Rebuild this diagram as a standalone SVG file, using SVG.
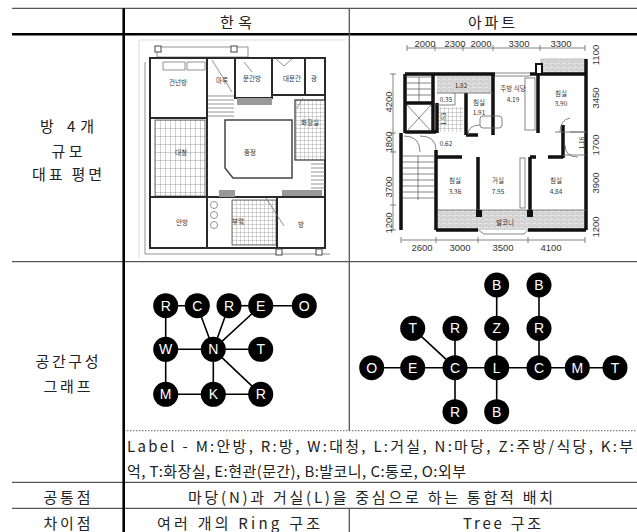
<svg xmlns="http://www.w3.org/2000/svg" width="637" height="532" viewBox="0 0 637 532">
<style>
.t{font-family:"Noto Sans CJK KR","Liberation Sans",sans-serif;font-size:15px;fill:#222;dominant-baseline:central}
.c{text-anchor:middle}
.thin{stroke:#555;stroke-width:1.3;fill:none}
.thick{stroke:#000;stroke-width:2.6;fill:none}
.edge{stroke:#000;stroke-width:1.6}
.node circle{fill:#000}
.node text{fill:#fff;font-family:"Liberation Sans",Arial,sans-serif;font-size:14px;text-anchor:middle;dominant-baseline:central}
.pl{font-family:"Noto Sans CJK KR",sans-serif;font-size:6.5px;fill:#333;text-anchor:middle;dominant-baseline:central}
.dim{font-family:"Liberation Sans",Arial,sans-serif;font-size:9.5px;fill:#333;text-anchor:middle;dominant-baseline:central}
.hw{stroke:#2a2a2a;stroke-width:2;fill:none}
.hl{stroke:#777;stroke-width:0.8;fill:none}
.aw{stroke:#111;stroke-width:3.5;fill:none}
.al{stroke:#666;stroke-width:0.8;fill:none}
</style>
<defs>
<pattern id="grid" width="4" height="4" patternUnits="userSpaceOnUse"><rect width="4" height="4" fill="#fff"/><path d="M0 0H4M0 0V4" stroke="#888" stroke-width="0.7"/></pattern>
<pattern id="boards" width="5" height="8" patternUnits="userSpaceOnUse"><rect width="5" height="8" fill="#fff"/><path d="M0 0V8M0 0H5" stroke="#777" stroke-width="0.7"/></pattern>
<pattern id="brick" width="6" height="4" patternUnits="userSpaceOnUse"><rect width="6" height="4" fill="#e4e4e4"/><path d="M0 0H6M0 0V2M3 2V4M0 2H6" stroke="#aaa" stroke-width="0.5"/></pattern>
</defs>

<g id="table">
<line class="thin" x1="12" y1="8.3" x2="637" y2="8.3"/>
<line class="thick" x1="12" y1="34.3" x2="637" y2="34.3"/>
<line class="thin" x1="12" y1="261.7" x2="637" y2="261.7"/>
<line x1="124" y1="430.7" x2="637" y2="430.7" stroke="#666" stroke-width="1" stroke-dasharray="1.5,1.5"/>
<line class="thin" x1="12" y1="482.3" x2="637" y2="482.3"/>
<line class="thin" x1="12" y1="508.3" x2="637" y2="508.3"/>
<line class="thick" x1="123.7" y1="8.3" x2="123.7" y2="532"/>
<line class="thin" x1="349.3" y1="8.3" x2="349.3" y2="430.7"/>
<line class="thin" x1="349.3" y1="508.3" x2="349.3" y2="532"/>
</g>

<g id="texts">
<text class="t c" x="236" y="21.5" textLength="32">한옥</text>
<text class="t c" x="491.5" y="21.5" textLength="47">아파트</text>
<text class="t c" x="67" y="125" textLength="54">방 4개</text>
<text class="t c" x="67" y="150" textLength="31">규모</text>
<text class="t c" x="67" y="173" textLength="70">대표 평면</text>
<text class="t c" x="67" y="360" textLength="63">공간구성</text>
<text class="t c" x="67" y="385" textLength="47">그래프</text>
<text class="t" x="127" y="445" textLength="506">Label - M:안방, R:방, W:대청, L:거실, N:마당, Z:주방/식당, K:부</text>
<text class="t" x="127" y="470" textLength="339">억, T:화장실, E:현관(문간), B:발코니, C:통로, O:외부</text>
<text class="t c" x="67" y="496" textLength="47">공통점</text>
<text class="t c" x="370.5" y="496" textLength="365">마당(N)과 거실(L)을 중심으로 하는 통합적 배치</text>
<text class="t c" x="67" y="522" textLength="47">차이점</text>
<text class="t c" x="238.5" y="522" textLength="163">여러 개의 Ring 구조</text>
<text class="t c" x="502" y="522" textLength="78">Tree 구조</text>
</g>

<g id="hanok-plan">
<path d="M139 258V40H345" stroke="#ddd" stroke-width="1" fill="none"/>
<rect x="157" y="47" width="91" height="10" class="hl"/>
<rect x="155" y="46" width="6" height="6" fill="#fff" stroke="#444" stroke-width="1"/>
<rect x="231" y="46" width="6" height="6" fill="#fff" stroke="#444" stroke-width="1"/>
<path d="M145 62V254H330" class="hl"/>
<rect x="150" y="58" width="175" height="190" class="hw"/>
<rect x="155" y="120" width="50" height="76" fill="url(#boards)" stroke="#555" stroke-width="0.8"/>
<rect x="232" y="200" width="44" height="45" fill="url(#grid)" stroke="#555" stroke-width="0.8"/>
<rect x="295" y="100" width="30" height="60" fill="url(#grid)" stroke="#333" stroke-width="1.2"/>
<path d="M207 58V248M150 118H207M235 58V98H272V58M305 58V95M272 95H325M150 197H325M277 197V248" class="hw"/>
<path d="M163 62H185V70H163ZM187 62H205V70H187Z" class="hl"/>
<rect x="237" y="98" width="35" height="7" fill="#999"/>
<rect x="219" y="190" width="16" height="7" fill="#999"/>
<rect x="282" y="190" width="40" height="6" fill="#999"/>
<path d="M225 120H292V178H233L225 168Z" stroke="#444" stroke-width="1.5" fill="none"/>
<path d="M208 96H234M208 100H234M208 104H234M208 108H234M208 112H234M208 116H234M212 60L232 92M311 164H325M311 168H325M311 172H325M311 176H325M311 180H325M311 184H325M311 188H325M266 198L284 226M276 59L284 66L292 59M303 98L297 108M244 62L252 72" class="hl"/>
<circle cx="214" cy="205" r="3.5" class="hl"/>
<circle cx="214" cy="215" r="3.5" class="hl"/>
<circle cx="214" cy="225" r="3.5" class="hl"/>
<rect x="276" y="249" width="6" height="6" fill="#fff" stroke="#444" stroke-width="1"/>
<rect x="316" y="249" width="6" height="6" fill="#fff" stroke="#444" stroke-width="1"/>
<text class="pl" x="178" y="82">건넌방</text>
<text class="pl" x="222" y="80">마루</text>
<text class="pl" x="252" y="78">문간방</text>
<text class="pl" x="292" y="78">대문간</text>
<text class="pl" x="314" y="78">광</text>
<text class="pl" x="310" y="122">화장실</text>
<text class="pl" x="250" y="152">중정</text>
<text class="pl" x="181" y="152">대청</text>
<text class="pl" x="182" y="222">안방</text>
<text class="pl" x="238" y="221">부엌</text>
<text class="pl" x="301" y="224">방</text>
</g>

<g id="apt-plan">
<rect x="541" y="59" width="45" height="15" fill="url(#brick)" stroke="#999" stroke-width="0.6"/>
<rect x="437" y="76" width="56" height="17" fill="url(#brick)"/>
<rect x="438" y="210" width="148" height="20" fill="url(#brick)"/>
<rect x="437" y="107" width="26" height="25" fill="url(#grid)"/>
<path d="M405 74H495M530 74H586M586 59V230M405 74V133M401 133V230M436 150V230M437 103V133M405 103H433M433 74V132M466 93V135M493 74V135M466 135H478M538 74V133M563 125V158M436 157H462M478 157V215M530 157V215M530 157H536M548 157H563M436 230H478M528 230H586M405 132H436" class="aw"/>
<rect x="536" y="64" width="6" height="10" fill="#fff" stroke="#111" stroke-width="2"/>
<path d="M495 73H530M495 76H530M478 230L484 234H524L528 230M438 210H586M437 93H493M437 105H455V93M563 132H586M563 155H586M555 132H563M570 132H586" class="al"/>
<rect x="525" y="78" width="10" height="52" class="al"/>
<rect x="480" y="116" width="22" height="12" rx="3" class="al"/>
<rect x="520" y="158" width="5" height="50" class="al"/>
<path d="M407 77H431M407 83H431M407 89H431M407 95H431M419 77V101M407 105L431 131M431 105L407 131M403 156H434M403 162H434M403 168H434M403 174H434M403 180H434M403 186H434M403 192H434M403 198H434M418 156V200M404 136Q420 136 420 152M420 136Q436 136 436 150M578 157Q565 157 565 145M468 135Q468 125 480 125M560 132Q560 120 570 118" class="al"/>
<path d="M476 210H482V217H476ZM527 210H533V217H527Z" fill="#111"/>
<path d="M407 48H585M407 45V51M435 45V51M463 45V51M493 45V51M540 45V51M585 45V51M393 74V230M390 74H396M390 133H396M390 152H396M390 205H396M390 230H396M401 240H585M401 237V243M436 237V243M478 237V243M528 237V243M585 237V243" class="al"/>
<text class="dim" x="425" y="43.5">2000</text>
<text class="dim" x="455" y="43.5">2300</text>
<text class="dim" x="481" y="43.5">2000</text>
<text class="dim" x="519" y="43.5">3300</text>
<text class="dim" x="561" y="43.5">3300</text>
<text class="dim" x="422" y="247">2600</text>
<text class="dim" x="460" y="247">3000</text>
<text class="dim" x="503" y="247">3500</text>
<text class="dim" x="551" y="247">4100</text>
<text class="dim" transform="translate(595 55) rotate(-90)">1100</text>
<text class="dim" transform="translate(595 98) rotate(-90)">3450</text>
<text class="dim" transform="translate(595 145) rotate(-90)">1700</text>
<text class="dim" transform="translate(595 183) rotate(-90)">3900</text>
<text class="dim" transform="translate(595 227) rotate(-90)">1200</text>
<text class="dim" transform="translate(388 102) rotate(-90)">4200</text>
<text class="dim" transform="translate(388 142) rotate(-90)">1800</text>
<text class="dim" transform="translate(388 187) rotate(-90)">3700</text>
<text class="dim" transform="translate(388 223) rotate(-90)">1200</text>
<text class="pl" x="461" y="85">1.82</text>
<text class="pl" x="446" y="99">0.35</text>
<text class="pl" transform="translate(443 119) rotate(-90)">1.53</text>
<text class="pl" x="479" y="102">침실</text>
<text class="pl" x="479" y="112">1.91</text>
<text class="pl" x="513" y="88">주방 식당</text>
<text class="pl" x="513" y="99">4.19</text>
<text class="pl" x="561" y="93">침실</text>
<text class="pl" x="561" y="103">3.90</text>
<text class="pl" x="446" y="143">0.62</text>
<text class="pl" transform="translate(581 143) rotate(-90)">1.16</text>
<text class="pl" x="455" y="180">침실</text>
<text class="pl" x="455" y="191">3.36</text>
<text class="pl" x="498" y="180">거실</text>
<text class="pl" x="498" y="191">7.95</text>
<text class="pl" x="556" y="180">침실</text>
<text class="pl" x="556" y="191">4.84</text>
<text class="pl" x="505" y="222">발코니</text>
</g>

<g id="connectors">
<line class="edge" x1="165.7" y1="305.7" x2="197.3" y2="305.7"/>
<line class="edge" x1="229" y1="305.7" x2="260.7" y2="305.7"/>
<line class="edge" x1="260.7" y1="305.7" x2="304.3" y2="305.7"/>
<line class="edge" x1="165.7" y1="305.7" x2="165.7" y2="394.3"/>
<line class="edge" x1="165.7" y1="349.3" x2="260.7" y2="349.3"/>
<line class="edge" x1="165.7" y1="394.3" x2="260.7" y2="394.3"/>
<line class="edge" x1="213.3" y1="349.3" x2="213.3" y2="394.3"/>
<line class="edge" x1="213.3" y1="349.3" x2="197.3" y2="305.7"/>
<line class="edge" x1="213.3" y1="349.3" x2="229" y2="305.7"/>
<line class="edge" x1="213.3" y1="349.3" x2="260.7" y2="305.7"/>
<line class="edge" x1="213.3" y1="349.3" x2="260.7" y2="394.3"/>
<line class="edge" x1="371.7" y1="367.7" x2="615" y2="367.7"/>
<line class="edge" x1="412.7" y1="328.3" x2="455" y2="367.7"/>
<line class="edge" x1="455" y1="328.3" x2="455" y2="411.7"/>
<line class="edge" x1="496.7" y1="285" x2="496.7" y2="411.7"/>
<line class="edge" x1="539" y1="285" x2="539" y2="367.7"/>
</g>

<g id="hanok-graph">
<g id="h-R1" class="node"><circle cx="165.7" cy="305.7" r="12.5"/><text x="165.7" y="305.7">R</text></g>
<g id="h-C" class="node"><circle cx="197.3" cy="305.7" r="12.5"/><text x="197.3" y="305.7">C</text></g>
<g id="h-R2" class="node"><circle cx="229" cy="305.7" r="12.5"/><text x="229" y="305.7">R</text></g>
<g id="h-E" class="node"><circle cx="260.7" cy="305.7" r="12.5"/><text x="260.7" y="305.7">E</text></g>
<g id="h-O" class="node"><circle cx="304.3" cy="305.7" r="12.5"/><text x="304.3" y="305.7">O</text></g>
<g id="h-W" class="node"><circle cx="165.7" cy="349.3" r="12.5"/><text x="165.7" y="349.3">W</text></g>
<g id="h-N" class="node"><circle cx="213.3" cy="349.3" r="12.5"/><text x="213.3" y="349.3">N</text></g>
<g id="h-T" class="node"><circle cx="260.7" cy="349.3" r="12.5"/><text x="260.7" y="349.3">T</text></g>
<g id="h-M" class="node"><circle cx="165.7" cy="394.3" r="12.5"/><text x="165.7" y="394.3">M</text></g>
<g id="h-K" class="node"><circle cx="213.3" cy="394.3" r="12.5"/><text x="213.3" y="394.3">K</text></g>
<g id="h-R3" class="node"><circle cx="260.7" cy="394.3" r="12.5"/><text x="260.7" y="394.3">R</text></g>
</g>

<g id="apt-graph">
<g id="a-B1" class="node"><circle cx="496.7" cy="285" r="12.5"/><text x="496.7" y="285">B</text></g>
<g id="a-B2" class="node"><circle cx="539" cy="285" r="12.5"/><text x="539" y="285">B</text></g>
<g id="a-T1" class="node"><circle cx="412.7" cy="328.3" r="12.5"/><text x="412.7" y="328.3">T</text></g>
<g id="a-R1" class="node"><circle cx="455" cy="328.3" r="12.5"/><text x="455" y="328.3">R</text></g>
<g id="a-Z" class="node"><circle cx="496.7" cy="328.3" r="12.5"/><text x="496.7" y="328.3">Z</text></g>
<g id="a-R2" class="node"><circle cx="539" cy="328.3" r="12.5"/><text x="539" y="328.3">R</text></g>
<g id="a-O" class="node"><circle cx="371.7" cy="367.7" r="12.5"/><text x="371.7" y="367.7">O</text></g>
<g id="a-E" class="node"><circle cx="412.7" cy="367.7" r="12.5"/><text x="412.7" y="367.7">E</text></g>
<g id="a-C1" class="node"><circle cx="455" cy="367.7" r="12.5"/><text x="455" y="367.7">C</text></g>
<g id="a-L" class="node"><circle cx="496.7" cy="367.7" r="12.5"/><text x="496.7" y="367.7">L</text></g>
<g id="a-C2" class="node"><circle cx="539" cy="367.7" r="12.5"/><text x="539" y="367.7">C</text></g>
<g id="a-M" class="node"><circle cx="577.3" cy="367.7" r="12.5"/><text x="577.3" y="367.7">M</text></g>
<g id="a-T2" class="node"><circle cx="615" cy="367.7" r="12.5"/><text x="615" y="367.7">T</text></g>
<g id="a-R3" class="node"><circle cx="455" cy="411.7" r="12.5"/><text x="455" y="411.7">R</text></g>
<g id="a-B3" class="node"><circle cx="496.7" cy="411.7" r="12.5"/><text x="496.7" y="411.7">B</text></g>
</g>
</svg>
